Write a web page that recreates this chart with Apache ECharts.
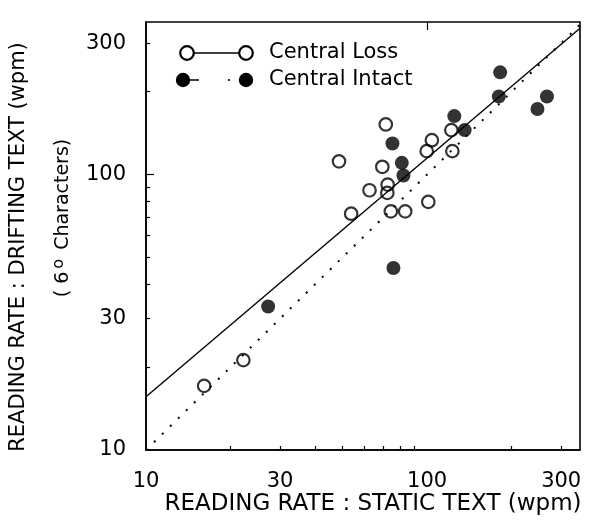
<!DOCTYPE html>
<html>
<head>
<meta charset="utf-8">
<script src="https://cdn.jsdelivr.net/npm/echarts@6/dist/echarts.min.js"></script>
<style>
  html, body { margin: 0; padding: 0; background: #fff; }
  #chart { width: 595px; height: 528px; }
</style>
</head>
<body>
<div id="chart"></div>
<script>
// ---- Data ----
const lossStatic   = [71.3, 48.6, 122, 104, 99.7, 123, 69.3, 62.4, 72.4, 72.2, 53.7, 74.3, 83.6, 101, 22.2, 16.1];
const lossDrifting = [152, 111.7, 145, 133.3, 121.6, 121.6, 106.7, 87.7, 91.9, 85.8, 72.1, 73.5, 73.5, 79.6, 21.2, 17.1];

const intactStatic   = [182, 180, 267, 247, 125, 136, 75.3, 81.3, 82.4, 75.9, 27.2];
const intactDrifting = [235, 192, 192, 173, 163, 145, 129.6, 110.3, 99.2, 45.8, 33.2];

// regression line end points (static, drifting)
const fitStatic   = [10, 350];
const fitDrifting = [15.6, 340];
// identity line (y = x)
const idStatic   = [10, 350];
const idDrifting = [10, 350];

const tickLabels = [10, 30, 100, 300];
const minorTicks = [20, 30, 40, 50, 60, 70, 80, 90, 200, 300];
const majorTicks = [100];

const FONT = 'DejaVu Sans';
const zip = (a, b) => a.map((v, i) => [v, b[i]]);

const chart = echarts.init(document.getElementById('chart'), null, { renderer: 'canvas' });

function makeAxis(isX, extra) {
  return Object.assign({
    type: 'log',
    logBase: 10,
    min: 10,
    max: isX ? 350 : 358,
    axisLine: { show: true, lineStyle: { color: '#000', width: 1.6 } },
    axisTick: { show: true, inside: true, length: 4, customValues: minorTicks, lineStyle: { color: '#000', width: 1.2 } },
    axisLabel: { show: true, customValues: tickLabels, color: '#000', fontSize: 21, fontFamily: FONT, margin: isX ? 21 : 20 },
    splitLine: { show: false },
    minorTick: { show: false },
    minorSplitLine: { show: false }
  }, extra || {});
}

const option = {
  backgroundColor: '#fff',
  animation: false,
  grid: { left: 146, right: 15, top: 22, bottom: 78, show: true, borderColor: '#000', borderWidth: 1.6, backgroundColor: 'transparent' },
  xAxis: [
    makeAxis(true),
    makeAxis(true, {
      axisLine: { show: false },
      axisTick: { show: true, inside: true, length: 8, customValues: majorTicks, lineStyle: { color: '#000', width: 1.2 } },
      axisLabel: { show: false }
    })
  ],
  yAxis: [
    makeAxis(false),
    makeAxis(false, {
      position: 'left',
      axisLine: { show: false },
      axisTick: { show: true, inside: true, length: 8, customValues: majorTicks, lineStyle: { color: '#000', width: 1.2 } },
      axisLabel: { show: false }
    })
  ],
  series: [
    {
      name: 'Identity', type: 'line', data: zip(idStatic, idDrifting),
      xAxisIndex: 0, yAxisIndex: 0,
      symbol: 'none', lineStyle: { color: '#000', width: 2, type: [2, 9.2] }, z: 1, silent: true
    },
    {
      name: 'Fit', type: 'line', data: zip(fitStatic, fitDrifting),
      xAxisIndex: 0, yAxisIndex: 0,
      symbol: 'none', lineStyle: { color: '#000', width: 1.4, type: 'solid' }, z: 1, silent: true
    },
    {
      name: 'Central Loss', type: 'scatter', data: zip(lossStatic, lossDrifting),
      xAxisIndex: 0, yAxisIndex: 0,
      symbol: 'circle', symbolSize: 12.5,
      itemStyle: { color: 'rgba(0,0,0,0)', borderColor: '#000', borderWidth: 2.2 }, z: 3
    },
    {
      name: 'Central Intact', type: 'scatter', data: zip(intactStatic, intactDrifting),
      xAxisIndex: 0, yAxisIndex: 0,
      symbol: 'circle', symbolSize: 14,
      itemStyle: { color: '#000', borderColor: '#000', borderWidth: 0 }, z: 4
    }
  ],
  graphic: [
    // Legend row 1: Central Loss
    { type: 'circle', shape: { cx: 187, cy: 53, r: 6.8 }, style: { fill: 'none', stroke: '#000', lineWidth: 2.2 } },
    { type: 'line', shape: { x1: 194, y1: 53, x2: 239, y2: 53 }, style: { stroke: '#000', lineWidth: 1.4 } },
    { type: 'circle', shape: { cx: 246, cy: 53, r: 6.8 }, style: { fill: 'none', stroke: '#000', lineWidth: 2.2 } },
    { type: 'text', x: 269, y: 53, style: { text: 'Central Loss', fill: '#000', font: '21px "DejaVu Sans"', verticalAlign: 'middle' } },
    // Legend row 2: Central Intact
    { type: 'circle', shape: { cx: 183, cy: 80, r: 7.2 }, style: { fill: '#000' } },
    { type: 'line', shape: { x1: 190, y1: 80, x2: 199, y2: 80 }, style: { stroke: '#000', lineWidth: 1.5 } },
    { type: 'circle', shape: { cx: 229, cy: 80, r: 1.1 }, style: { fill: '#000' } },
    { type: 'circle', shape: { cx: 246, cy: 80, r: 7.2 }, style: { fill: '#000' } },
    { type: 'text', x: 269, y: 80, style: { text: 'Central Intact', fill: '#000', font: '21px "DejaVu Sans"', verticalAlign: 'middle' } },
    // X axis title
    { type: 'text', x: 373, y: 504, style: { text: 'READING RATE : STATIC TEXT (wpm)', fill: '#000', font: '23px "DejaVu Sans"', align: 'center', verticalAlign: 'middle' } },
    // Y axis title
    { type: 'text', x: 19, y: 247, rotation: Math.PI / 2, style: { text: 'READING RATE : DRIFTING TEXT (wpm)', fill: '#000', font: '21px "DejaVu Sans"', align: 'center', verticalAlign: 'middle' } },
    { type: 'text', x: 63, y: 218, rotation: Math.PI / 2,
      style: {
        text: '( 6{sup|o} Characters)', fill: '#000', font: '19px "DejaVu Sans"', align: 'center', verticalAlign: 'middle',
        rich: { sup: { fontSize: 16, fontFamily: FONT, fill: '#000', verticalAlign: 'top', padding: [0, 3, 8, 3] } }
      } }
  ]
};

chart.setOption(option);
</script>
</body>
</html>
